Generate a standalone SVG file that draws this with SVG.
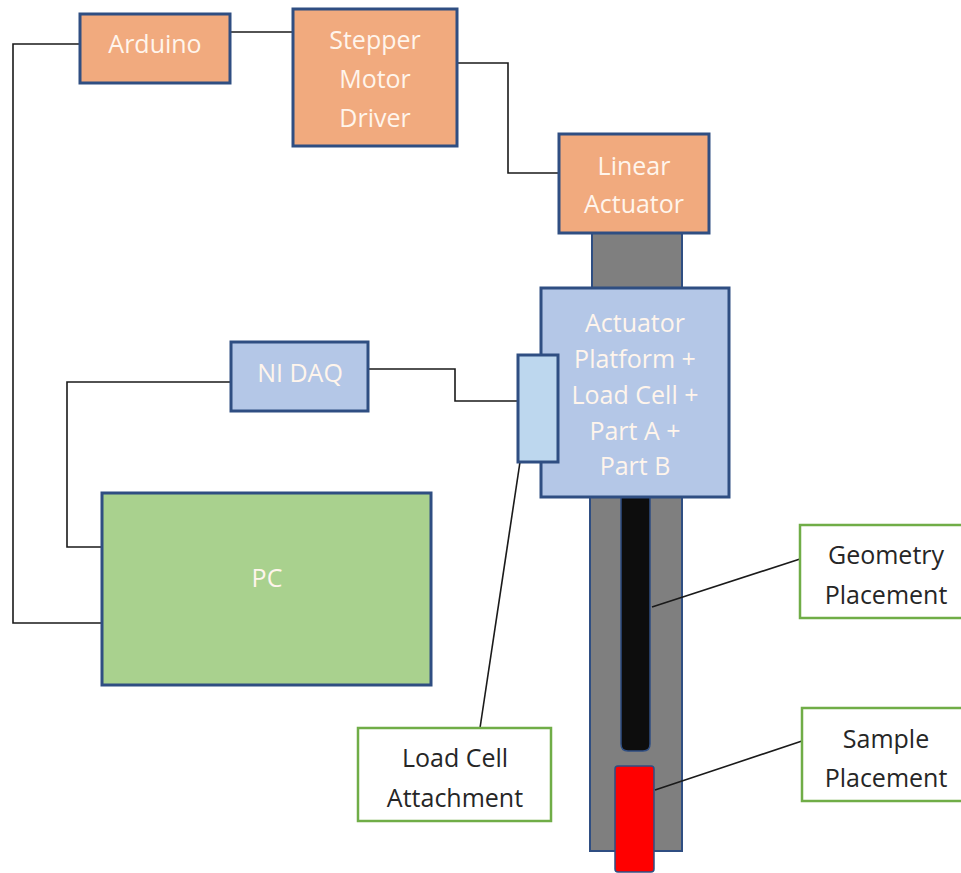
<svg xmlns="http://www.w3.org/2000/svg" width="961" height="873" viewBox="0 0 961 873">
<style>
.box{stroke:#2F4E82;stroke-width:3}
.orange{fill:#F1AA7E}
.blue{fill:#B4C7E7}
.lt{fill:#BDD7EE}
.green{fill:#A9D18E}
.lbl{fill:#FFFFFF;stroke:#70AD47;stroke-width:2.5}
.t{font-family:"Open Sans","Liberation Sans",sans-serif;font-size:25px;text-anchor:middle}
.w{fill:#FFF5EC}
.k{fill:#262626}
.wire{fill:none;stroke:#1A1A1A;stroke-width:1.6}
</style>
<rect width="961" height="873" fill="#FFFFFF"/>
<g id="tube">
<rect x="592" y="233" width="90" height="55" fill="#7F7F7F" stroke="#2F4E82" stroke-width="2"/>
<rect x="590" y="497" width="92" height="354" fill="#7F7F7F" stroke="#2F4E82" stroke-width="2"/>
<path d="M621,497 H650 V744 Q650,751 643,751 H628 Q621,751 621,744 Z" fill="#0D0D0D" stroke="#2F4E82" stroke-width="1.5"/>
<rect x="615" y="766" width="39" height="106" rx="3" fill="#FF0000" stroke="#2F4E82" stroke-width="1.5"/>
</g>
<g id="connectors">
<path class="wire" d="M230,32 H293"/>
<path class="wire" d="M80,44 H13 V623 H102"/>
<path class="wire" d="M457,63 H508 V173 H559"/>
<path class="wire" d="M231,382 H67 V547 H102"/>
<path class="wire" d="M368,369 H455 V401 H518"/>
<path class="wire" d="M520,462 L480,728"/>
<path class="wire" d="M652,607 L800,559"/>
<path class="wire" d="M655,790 L802,741"/>
</g>
<g id="arduino">
<rect class="box orange" x="80" y="14" width="150" height="69"/>
<text class="t w" x="155" y="53">Arduino</text>
</g>
<g id="stepper">
<rect class="box orange" x="293" y="9" width="164" height="137"/>
<text class="t w" x="375" y="49">Stepper</text>
<text class="t w" x="375" y="88">Motor</text>
<text class="t w" x="375" y="127">Driver</text>
</g>
<g id="linear-actuator">
<rect class="box orange" x="559" y="134" width="150" height="99"/>
<text class="t w" x="634" y="175">Linear</text>
<text class="t w" x="634" y="213">Actuator</text>
</g>
<g id="platform">
<rect class="box blue" x="541" y="288" width="188" height="209"/>
<text class="t w" x="635" y="332">Actuator</text>
<text class="t w" x="635" y="368">Platform +</text>
<text class="t w" x="635" y="404">Load Cell +</text>
<text class="t w" x="635" y="440">Part A +</text>
<text class="t w" x="635" y="475">Part B</text>
</g>
<g id="load-cell-block">
<rect class="box lt" x="518" y="355" width="40" height="107"/>
</g>
<g id="ni-daq">
<rect class="box blue" x="231" y="342" width="137" height="69"/>
<text class="t w" x="300" y="382">NI DAQ</text>
</g>
<g id="pc">
<rect class="box green" x="102" y="493" width="329" height="192"/>
<text class="t w" x="267" y="587">PC</text>
</g>
<g id="load-cell-attachment">
<rect class="lbl" x="358" y="728" width="193" height="93"/>
<text class="t k" x="455" y="767">Load Cell</text>
<text class="t k" x="455" y="807">Attachment</text>
</g>
<g id="geometry-placement">
<rect class="lbl" x="800" y="525" width="175" height="93"/>
<text class="t k" x="886" y="564">Geometry</text>
<text class="t k" x="886" y="604">Placement</text>
</g>
<g id="sample-placement">
<rect class="lbl" x="802" y="708" width="175" height="93"/>
<text class="t k" x="886" y="748">Sample</text>
<text class="t k" x="886" y="787">Placement</text>
</g>
</svg>
